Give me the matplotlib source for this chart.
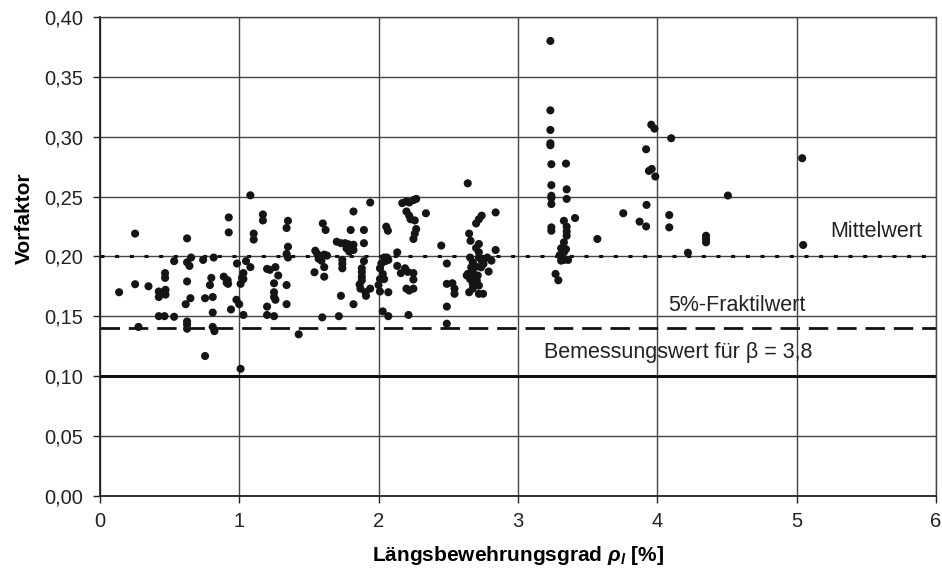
import matplotlib
matplotlib.use('Agg')
import matplotlib.pyplot as plt
from matplotlib.ticker import FuncFormatter

# Messwerte: Laengsbewehrungsgrad [%] und Vorfaktor
rho = [1.08, 0.925, 1.17, 1.17, 0.253, 0.626, 0.925, 1.104, 1.104, 0.533,
       0.626, 0.643, 0.655, 0.741, 0.817, 0.984, 1.049, 1.08, 1.2, 1.26,
       1.03, 1.03, 0.468, 0.468, 0.80, 0.79, 0.889, 0.917, 0.92, 0.91,
       0.626, 0.253, 0.349, 0.138, 0.423, 0.423, 0.471, 0.471, 1.01, 1.02,
       1.25, 1.25, 1.25, 0.65, 0.755, 0.81, 0.616, 0.98, 1.0, 0.941,
       0.81, 1.03, 1.2, 1.2, 1.25, 0.423, 0.464, 0.533, 0.277, 0.626,
       0.626, 0.626, 0.81, 0.822, 0.755, 1.01,
       1.94, 2.17, 2.20, 2.22, 2.25, 2.27, 1.82, 2.20, 2.22, 2.23,
       2.26, 2.34, 1.35, 1.34, 1.60, 1.62, 1.80, 1.895, 2.055, 2.067,
       2.27, 2.26, 2.25, 1.70, 1.73, 1.76, 1.785, 1.895, 1.82, 1.82,
       1.77, 1.79, 2.45, 1.35, 1.34, 1.35, 1.546, 1.56, 1.61, 1.63,
       1.57, 1.59, 1.74, 1.74, 1.74, 1.895, 1.88, 1.88, 1.88, 1.88,
       1.864, 1.87, 1.906, 1.91, 1.94, 2.04, 2.05, 2.02, 2.01, 2.03,
       2.01, 2.0, 2.01, 2.04, 2.07, 2.07, 2.06, 2.134, 2.134, 2.19,
       2.16, 2.21, 2.25, 2.25, 2.2, 2.22, 2.25, 1.22, 1.28, 1.26,
       1.54, 1.61, 1.61, 1.34, 1.34, 1.73, 1.82, 2.03, 2.07, 2.215,
       1.596, 1.715, 1.427, 2.49, 2.49, 2.49, 2.49,
       2.64, 3.24, 3.345, 3.24, 3.24, 3.24, 3.24, 3.35, 3.35, 3.41,
       3.33, 3.24, 3.24, 3.35, 3.35, 3.35, 3.57, 3.33, 3.31, 3.345,
       3.33, 3.30, 3.33, 3.36, 3.31, 3.27, 3.29, 2.84, 2.70, 2.72,
       2.74, 2.65, 2.66, 2.72, 2.70, 2.72, 2.72, 2.74, 2.81, 2.78,
       2.84, 2.657, 2.676, 2.665, 2.64, 2.676, 2.70, 2.736, 2.753, 2.712,
       2.657, 2.705, 2.676, 2.72, 2.676, 2.65, 2.72, 2.75, 2.79, 2.633,
       2.665, 2.53, 2.545, 2.545,
       3.233, 3.233, 3.233, 3.233, 3.233, 3.756, 3.873, 3.92, 3.923, 3.92,
       3.94, 3.96, 3.986, 3.957, 3.98, 4.10, 4.086, 4.086, 4.22, 4.35,
       4.35, 4.35, 4.507, 5.047, 5.04]
vorfaktor = [0.251, 0.2325, 0.235, 0.230, 0.219, 0.215, 0.220, 0.219, 0.214, 0.196,
             0.195, 0.192, 0.199, 0.197, 0.199, 0.194, 0.196, 0.191, 0.1895, 0.191,
             0.186, 0.181, 0.186, 0.182, 0.182, 0.176, 0.183, 0.180, 0.177, 0.178,
             0.179, 0.1767, 0.175, 0.170, 0.1706, 0.166, 0.172, 0.168, 0.177, 0.182,
             0.1775, 0.170, 0.166, 0.165, 0.165, 0.166, 0.160, 0.1637, 0.160, 0.1556,
             0.153, 0.151, 0.158, 0.151, 0.150, 0.150, 0.150, 0.1495, 0.141, 0.1456,
             0.143, 0.1395, 0.141, 0.1375, 0.1167, 0.106,
             0.245, 0.2445, 0.246, 0.245, 0.247, 0.248, 0.2375, 0.2375, 0.234, 0.231,
             0.230, 0.236, 0.2297, 0.2237, 0.2275, 0.222, 0.222, 0.222, 0.2248, 0.2214,
             0.2228, 0.219, 0.2145, 0.2122, 0.211, 0.211, 0.21, 0.211, 0.2097, 0.2053,
             0.2067, 0.204, 0.209, 0.208, 0.202, 0.199, 0.2047, 0.202, 0.2014, 0.2006,
             0.198, 0.1964, 0.197, 0.1936, 0.19, 0.196, 0.19, 0.1867, 0.183, 0.18,
             0.1765, 0.173, 0.170, 0.167, 0.173, 0.199, 0.196, 0.194, 0.19, 0.1853,
             0.181, 0.176, 0.1706, 0.181, 0.170, 0.197, 0.199, 0.2033, 0.192, 0.19,
             0.186, 0.187, 0.186, 0.1806, 0.173, 0.1714, 0.173, 0.1887, 0.184, 0.1637,
             0.1867, 0.191, 0.183, 0.176, 0.16, 0.167, 0.16, 0.154, 0.15, 0.151,
             0.149, 0.15, 0.1348, 0.194, 0.177, 0.158, 0.1437,
             0.261, 0.277, 0.2775, 0.2595, 0.2506, 0.2487, 0.2437, 0.256, 0.248, 0.232,
             0.2297, 0.2242, 0.2214, 0.2248, 0.2208, 0.2172, 0.2145, 0.2117, 0.2067, 0.206,
             0.2033, 0.201, 0.197, 0.197, 0.1964, 0.1853, 0.180, 0.2367, 0.2275, 0.231,
             0.234, 0.219, 0.213, 0.2103, 0.207, 0.2033, 0.199, 0.1964, 0.1964, 0.199,
             0.2053, 0.199, 0.195, 0.1908, 0.1853, 0.1867, 0.1914, 0.1908, 0.1937, 0.184,
             0.181, 0.1797, 0.177, 0.1756, 0.173, 0.170, 0.1687, 0.1687, 0.1873, 0.184,
             0.183, 0.1775, 0.173, 0.1687,
             0.380, 0.322, 0.3056, 0.2945, 0.2928, 0.236, 0.229, 0.225, 0.243, 0.2895,
             0.2714, 0.273, 0.2667, 0.310, 0.3067, 0.2987, 0.2345, 0.2242, 0.203, 0.2172,
             0.2145, 0.2117, 0.2508, 0.2095, 0.282]

mittelwert = 0.20
fraktilwert = 0.14
bemessungswert = 0.10

plt.rcParams['font.family'] = ['Liberation Sans', 'DejaVu Sans']
plt.rcParams['mathtext.fontset'] = 'custom'
plt.rcParams['mathtext.bf'] = 'Liberation Sans:bold:italic'
plt.rcParams['mathtext.it'] = 'Liberation Sans:italic'
plt.rcParams['mathtext.rm'] = 'Liberation Sans'

fig = plt.figure(figsize=(9.42, 5.73), dpi=100)
ax = fig.add_axes([0.106, 0.135, 0.8876, 0.8353])

ax.set_xlim(0, 6)
ax.set_ylim(0, 0.40)
ax.set_xticks(range(0, 7))
ax.set_yticks([i * 0.05 for i in range(9)])
ax.yaxis.set_major_formatter(FuncFormatter(lambda v, p: ('%.2f' % v).replace('.', ',')))
ax.grid(True, color='#444444', linewidth=1.0)
ax.set_axisbelow(True)
for side in ['top', 'right']:
    ax.spines[side].set_color('#444444')
    ax.spines[side].set_linewidth(1.0)
for side in ['left', 'bottom']:
    ax.spines[side].set_color('#222222')
    ax.spines[side].set_linewidth(1.3)
ax.tick_params(labelsize=14.5, colors='#222222', length=5, width=1.0, pad=7)

ax.axhline(mittelwert, color='#111111', linewidth=2.2, linestyle=(0, (1.3, 3.5)), zorder=2)
ax.axhline(fraktilwert, color='#111111', linewidth=2.0, linestyle=(0, (7, 3.2)), zorder=2)
ax.axhline(bemessungswert, color='#111111', linewidth=2.2, zorder=2)

ax.scatter(rho, vorfaktor, s=34, color='#151515', edgecolors='none', zorder=3)

ax.text(5.24, 0.2205, 'Mittelwert', fontsize=15.5, color='#222222', va='center')
ax.text(4.08, 0.159, '5%-Fraktilwert', fontsize=15.5, color='#222222', va='center')
ax.text(3.19, 0.1195, 'Bemessungswert für β = 3,8', fontsize=15.5, color='#222222', va='center')

ax.set_ylabel('Vorfaktor', fontsize=15, fontweight='bold')
ax.yaxis.set_label_coords(-0.079, 0.58)
ax.set_xlabel(r'Längsbewehrungsgrad $\mathbf{ρ}_\mathbf{l}$ [%]', fontsize=15,
              fontweight='bold', labelpad=9)

fig.savefig('out.png', dpi=100)
